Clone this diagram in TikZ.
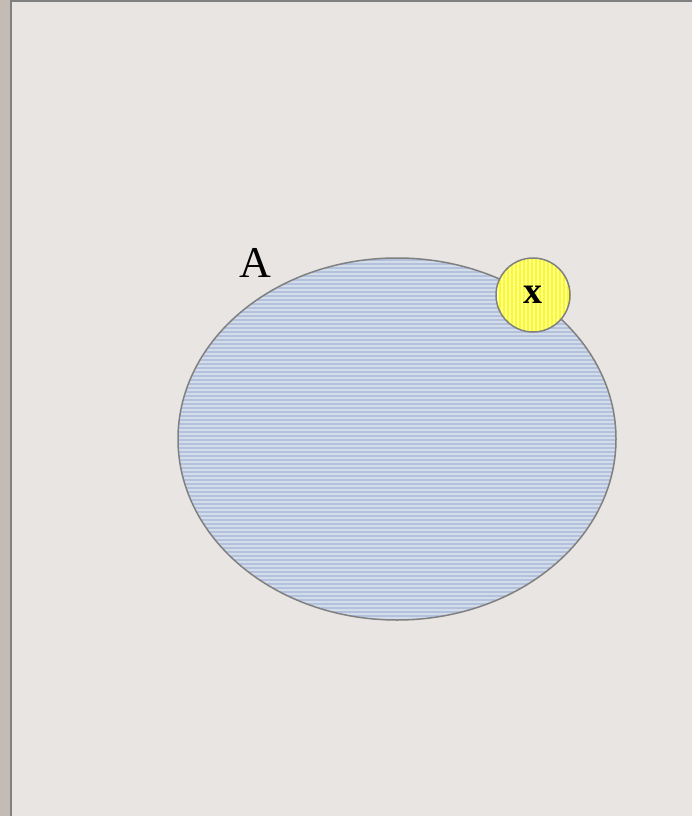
\documentclass[tikz,border=0pt]{standalone}
\usepackage{fontspec}
\setmainfont{Liberation Serif}
\usetikzlibrary{shapes.geometric, positioning}
\definecolor{paperGrey}{HTML}{E8E5E2}
\definecolor{edgeTaupe}{HTML}{C4BCB4}
\definecolor{frameGrey}{HTML}{808080}
\definecolor{setBlue}{HTML}{B2C2DC}
\definecolor{setBlueLight}{HTML}{D4DCE9}
\definecolor{pointYellow}{HTML}{FFFF00}
\definecolor{pointPale}{HTML}{FFFFC0}

\begin{document}
\begin{tikzpicture}[
            x=1pt, y=-1pt,
            every node/.style={font=\fontsize{44}{44}\selectfont},
            setnode/.style={ellipse, draw=frameGrey, line width=1.5pt, minimum width=438pt, minimum height=362pt, inner sep=0pt,
                path picture={
                    \fill[setBlueLight] (path picture bounding box.south west) rectangle (path picture bounding box.north east);
                    \foreach \k in {0,4,...,364}
                        \draw[setBlue, line width=2.4pt] ([yshift=\k pt]path picture bounding box.south west) -- ++(440pt,0pt);
                }},
            pointnode/.style={circle, draw=frameGrey, line width=1.5pt, minimum size=74pt, inner sep=0pt,
                font=\fontsize{38}{38}\selectfont\bfseries,
                path picture={
                    \fill[pointPale] (path picture bounding box.south west) rectangle (path picture bounding box.north east);
                    \foreach \k in {0,4,...,76}
                        \draw[pointYellow, line width=2.6pt] ([xshift=\k pt]path picture bounding box.south west) -- ++(0pt,76pt);
                }}
        ]
            % Background
            \useasboundingbox (0,0) rectangle (692,816);
            \fill[paperGrey] (0,0) rectangle (692,816);
            \fill[edgeTaupe] (0,0) rectangle (10,816);
            \draw[frameGrey, line width=2.4pt] (11,816) -- (11,1) -- (692,1);

            % Nodes
            \node[setnode] (setA) at (397,439) {};
            \node[pointnode] (ptx) at (533,295) {x};
            \node (labA) at (255,263) {A};
        \end{tikzpicture}
\end{document}
